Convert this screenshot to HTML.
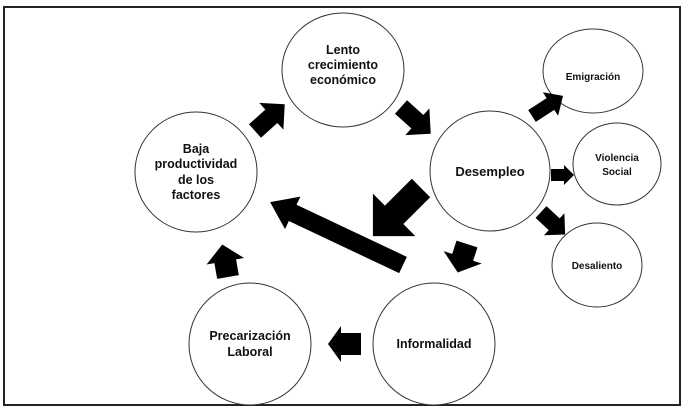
<!DOCTYPE html>
<html><head><meta charset="utf-8"><style>
html,body{margin:0;padding:0;background:#fff;}
svg{display:block;}
text{font-family:"Liberation Sans",sans-serif;font-weight:bold;fill:#111;text-anchor:middle;}
</style></head><body>
<svg width="684" height="408" viewBox="0 0 684 408" xmlns="http://www.w3.org/2000/svg">
<rect x="0" y="0" width="684" height="408" fill="#fff"/>
<rect x="4" y="7" width="676" height="398" fill="none" stroke="#222" stroke-width="2"/>
<g fill="#fff" stroke="#333" stroke-width="1">
<ellipse cx="343" cy="70" rx="61" ry="57"/>
<ellipse cx="196" cy="172" rx="61" ry="60"/>
<ellipse cx="490" cy="171" rx="60" ry="60"/>
<ellipse cx="434" cy="344" rx="61" ry="61"/>
<ellipse cx="250" cy="344" rx="61" ry="61"/>
<ellipse cx="593" cy="71" rx="50" ry="42"/>
<ellipse cx="617" cy="164" rx="44" ry="41"/>
<ellipse cx="597" cy="265" rx="45" ry="42"/>
</g>
<g font-size="12.5">
<text x="343" y="54">Lento</text>
<text x="343" y="69">crecimiento</text>
<text x="343" y="84">económico</text>
<text x="196" y="153">Baja</text>
<text x="196" y="168">productividad</text>
<text x="196" y="184">de los</text>
<text x="196" y="199">factores</text>
<text x="490" y="176" font-size="13">Desempleo</text>
<text x="434" y="348">Informalidad</text>
<text x="250" y="340">Precarización</text>
<text x="250" y="356">Laboral</text>
</g>
<g font-size="10">
<text x="593" y="80">Emigración</text>
<text x="617" y="161">Violencia</text>
<text x="617" y="175">Social</text>
<text x="597" y="269">Desaliento</text>
</g>
<g fill="#000">
<!-- arrow path: right-pointing, origin at tail -->
<path transform="translate(255,131) rotate(-42)" d="M0,-9 L22,-9 L22,-18 L40,0 L22,18 L22,9 L0,9 Z"/>
<path transform="translate(401,107) rotate(42)" d="M0,-9 L22,-9 L22,-18 L40,0 L22,18 L22,9 L0,9 Z"/>
<path transform="translate(532,116) rotate(-33)" d="M0,-7 L22,-7 L22,-14 L37,0 L22,14 L22,7 L0,7 Z"/>
<path transform="translate(551,175) rotate(0)" d="M0,-6 L13,-6 L13,-10 L23,0 L13,10 L13,6 L0,6 Z"/>
<path transform="translate(541,212) rotate(43)" d="M0,-8 L18,-8 L18,-15 L33,0 L18,15 L18,8 L0,8 Z"/>
<path transform="translate(421,188) rotate(135)" d="M0,-13 L38,-13 L38,-30 L68,0 L38,30 L38,13 L0,13 Z"/>
<path transform="translate(467,244) rotate(108)" d="M0,-11 L14,-11 L14,-20 L30,0 L14,20 L14,11 L0,11 Z"/>
<path transform="translate(403,265) rotate(205.3)" d="M0,-9 L122,-9 L122,-18 L147,0 L122,18 L122,9 L0,9 Z"/>
<path transform="translate(361,344) rotate(180)" d="M0,-11 L20,-11 L20,-18 L33,0 L20,18 L20,11 L0,11 Z"/>
<path transform="translate(228,277) rotate(-100)" d="M0,-11 L16,-11 L16,-19 L33,0 L16,19 L16,11 L0,11 Z"/>
</g>
</svg>
</body></html>
